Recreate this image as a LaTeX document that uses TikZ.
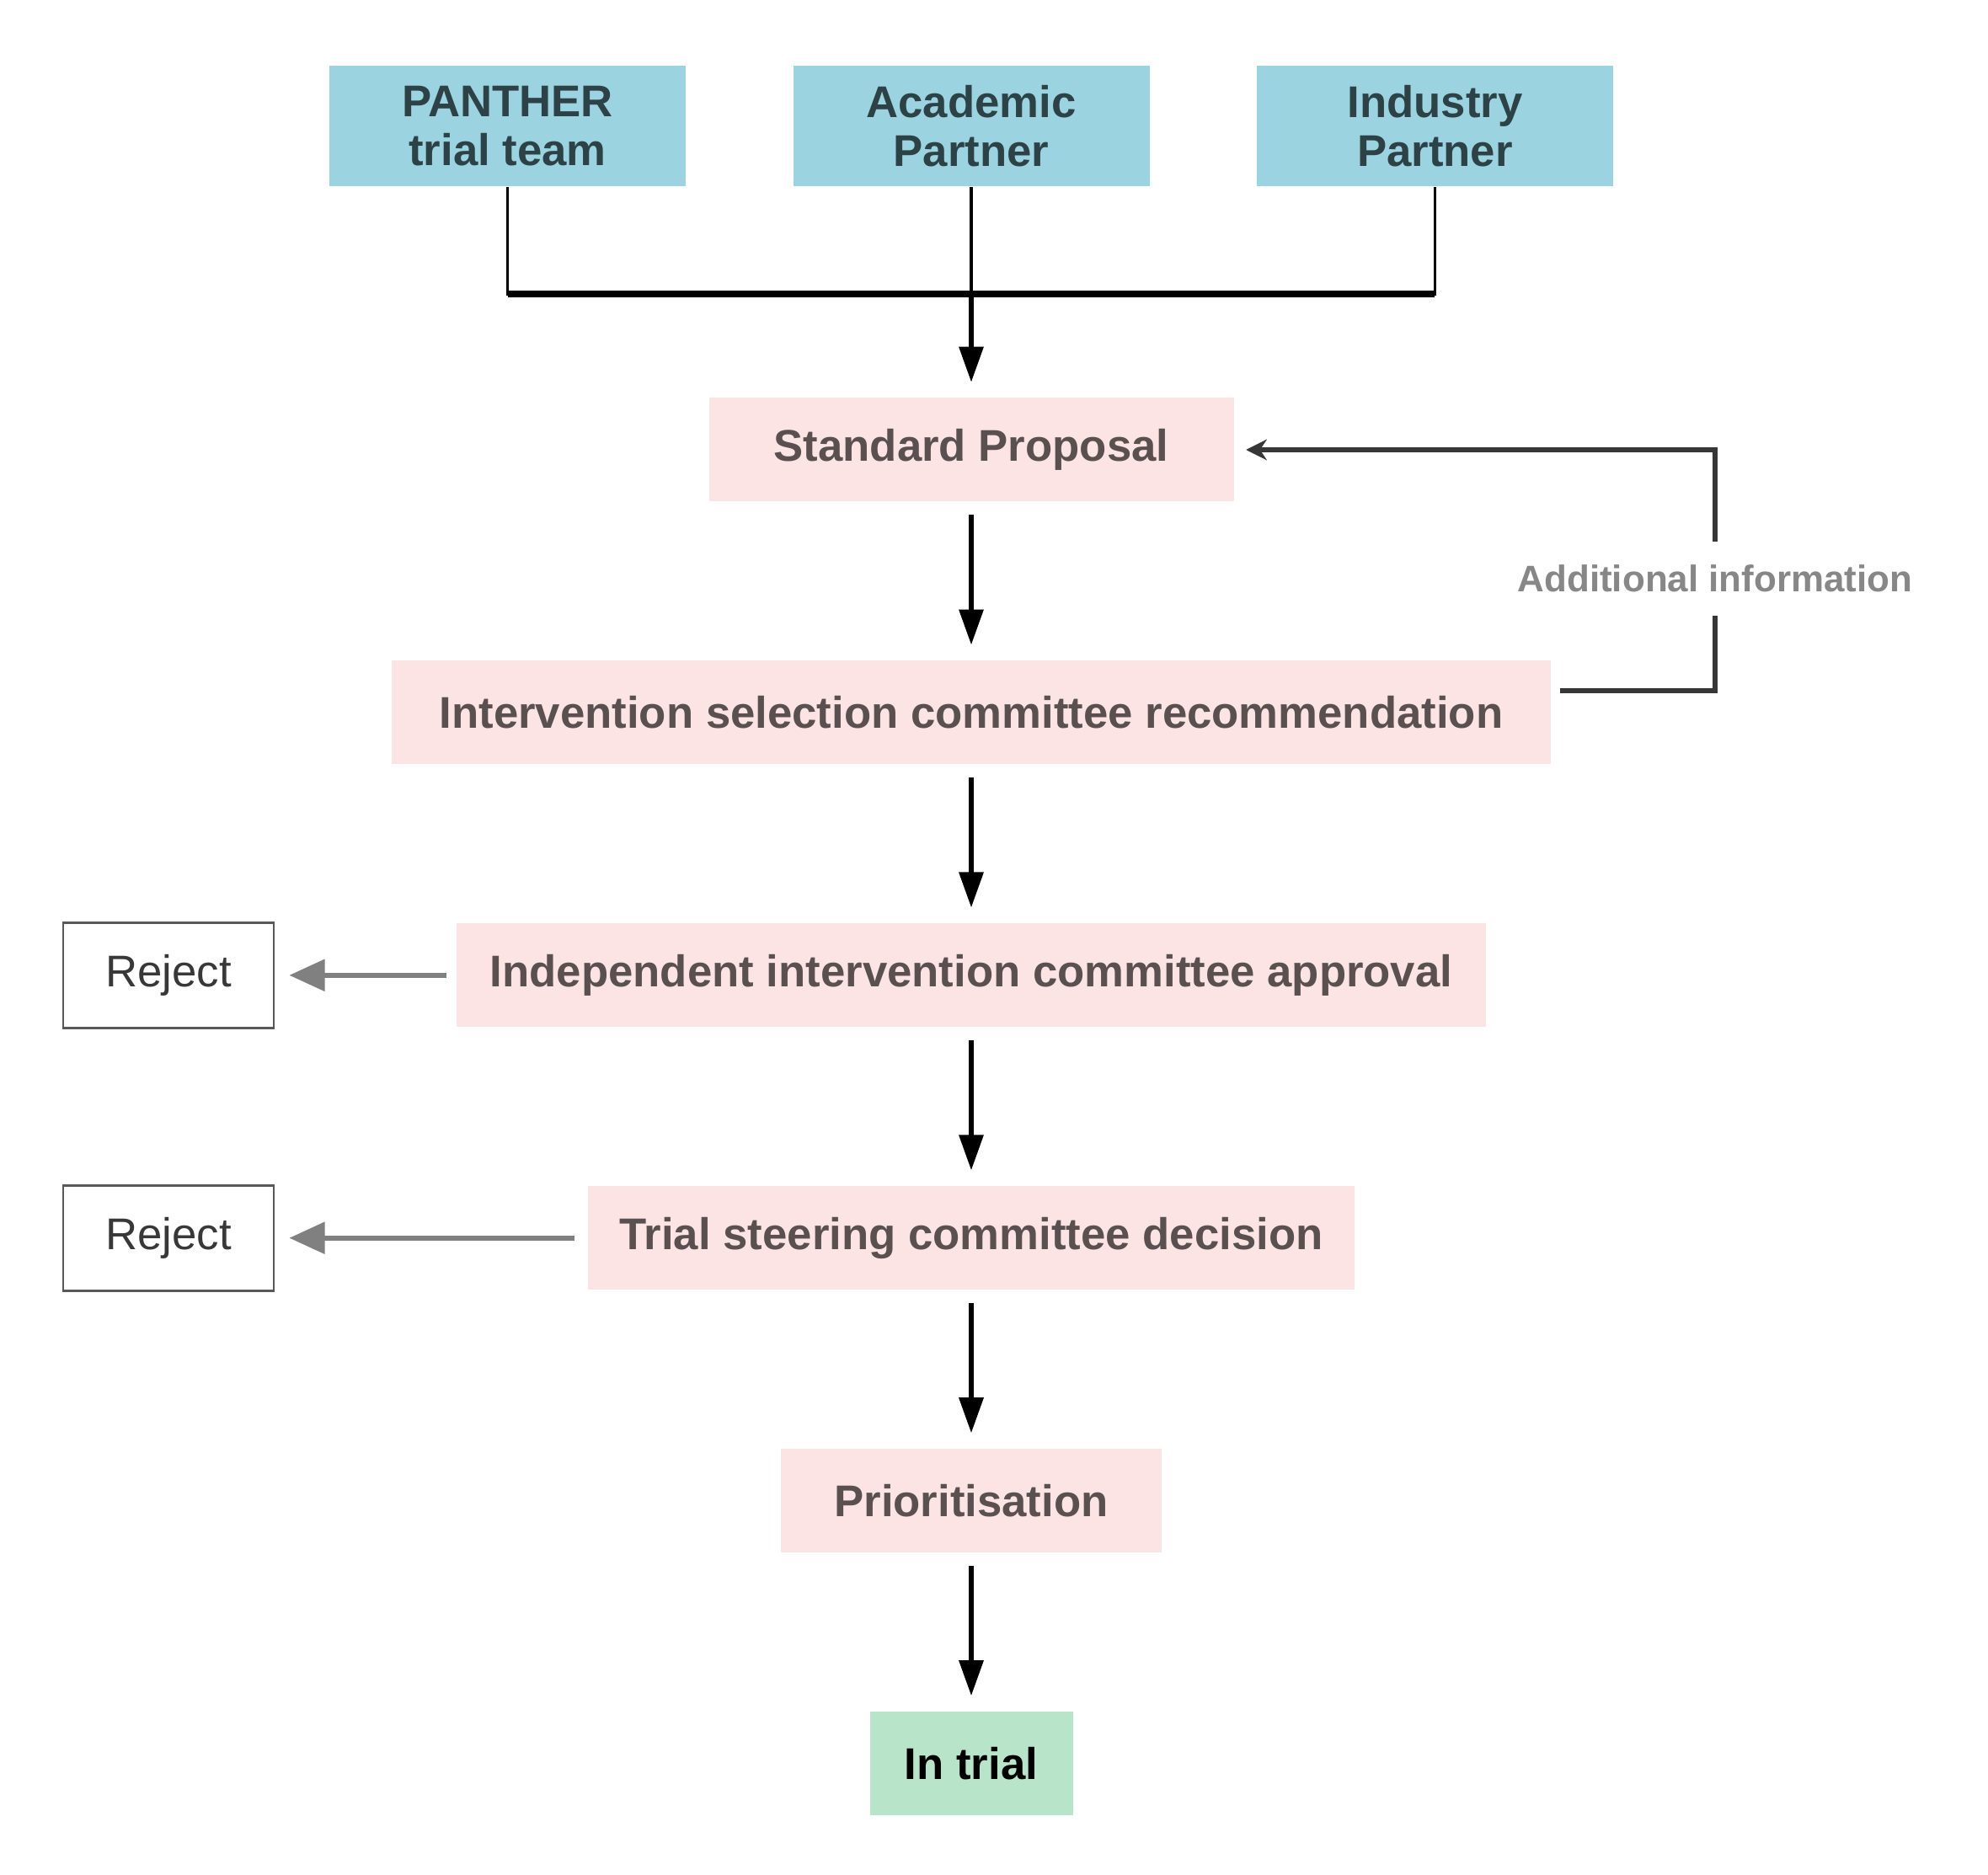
\documentclass[tikz,border=0pt]{standalone}
\usepackage{fontspec}
\setmainfont{Liberation Sans}
\usepackage{xcolor}
\usetikzlibrary{arrows.meta,positioning}

\definecolor{teamblue}{RGB}{155,211,224}
\definecolor{teamtext}{RGB}{45,66,70}
\definecolor{stagepink}{RGB}{252,228,228}
\definecolor{stagetext}{RGB}{90,80,80}
\definecolor{trialgreen}{RGB}{184,228,201}
\definecolor{rejectgray}{RGB}{128,128,128}
\definecolor{loopgray}{RGB}{55,55,55}
\definecolor{notegray}{RGB}{135,135,135}

\begin{document}
\begin{tikzpicture}[
  >={Triangle[length=12pt,width=8pt]},
  node distance=1.875cm,
  source/.style={fill=teamblue, text=teamtext, align=center, font=\fontsize{15}{16.5}\selectfont\bfseries, minimum width=4.23cm, minimum height=1.43cm},
  stage/.style={fill=stagepink, text=stagetext, font=\fontsize{15}{18}\selectfont\bfseries, minimum height=1.23cm},
  reject/.style={draw=black!65, line width=.8pt, text=black!78, font=\fontsize{15}{18}\selectfont, minimum width=2.5cm, minimum height=1.25cm},
  flow/.style={->, line width=1.7pt, shorten >=.18cm, shorten <=.15cm},
  back/.style={->, line width=1.7pt, rejectgray, >={Triangle[length=12pt,width=10.5pt]}}
]
\useasboundingbox (0,0) rectangle (23.6,-22.26);

% sources
\node[source] (academic) at (11.53,-1.50) {Academic\\Partner};
\node[source, left=1.26cm of academic] (panther) {PANTHER\\trial team};
\node[source, right=1.26cm of academic] (industry) {Industry\\Partner};

% main chain
\node[stage, minimum width=6.23cm] (proposal) at (11.53,-5.34) {Standard Proposal};
\node[stage, minimum width=13.76cm, below=of proposal] (selection) {Intervention selection committee recommendation};
\node[stage, minimum width=12.22cm, below=of selection] (approval) {Independent intervention committee approval};
\node[stage, minimum width=9.10cm, below=of approval] (steering) {Trial steering committee decision};
\node[stage, minimum width=4.52cm, below=of steering] (priority) {Prioritisation};
\node[stage, fill=trialgreen, text=black, minimum width=2.41cm, below=of priority] (intrial) {In trial};

% rejections
\coordinate (leftedge) at (2.0,0);
\node[reject] (reject1) at (leftedge |- approval) {Reject};
\node[reject] (reject2) at (leftedge |- steering) {Reject};

% joining the sources
\coordinate (join) at (11.53,-3.49);
\draw[line width=.9pt] (panther.south) |- (join);
\draw[line width=.9pt] (industry.south) |- (join);
\draw[line width=.9pt] (academic.south) -- (join);
\draw[line width=2pt] (panther.south |- join) -- (industry.south |- join);
\draw[->, line width=1.7pt, shorten >=.18cm] (join) -- (proposal.north);

\draw[flow] (proposal) -- (selection);
\draw[flow] (selection) -- (approval);
\draw[flow] (approval) -- (steering);
\draw[flow] (steering) -- (priority);
\draw[flow] (priority) -- (intrial);

\draw[back, shorten <=.11cm, shorten >=.17cm] (approval.west) -- (reject1.east);
\draw[back, shorten <=.15cm, shorten >=.17cm] (steering.west) -- (reject2.east);

% feedback loop
\coordinate (loopcorner) at (20.36,-8.20);
\draw[->, loopgray, line width=1.7pt, >={Stealth[length=7pt,width=7pt]}, shorten <=.10cm, shorten >=.14cm]
  (selection.east |- loopcorner) -- (loopcorner) -- node[pos=.465, fill=white, text=notegray, font=\fontsize{12.5}{15}\selectfont\bfseries, inner ysep=8pt] (addinfo) {Additional information} (loopcorner |- proposal) -- (proposal.east);
\end{tikzpicture}
\end{document}
